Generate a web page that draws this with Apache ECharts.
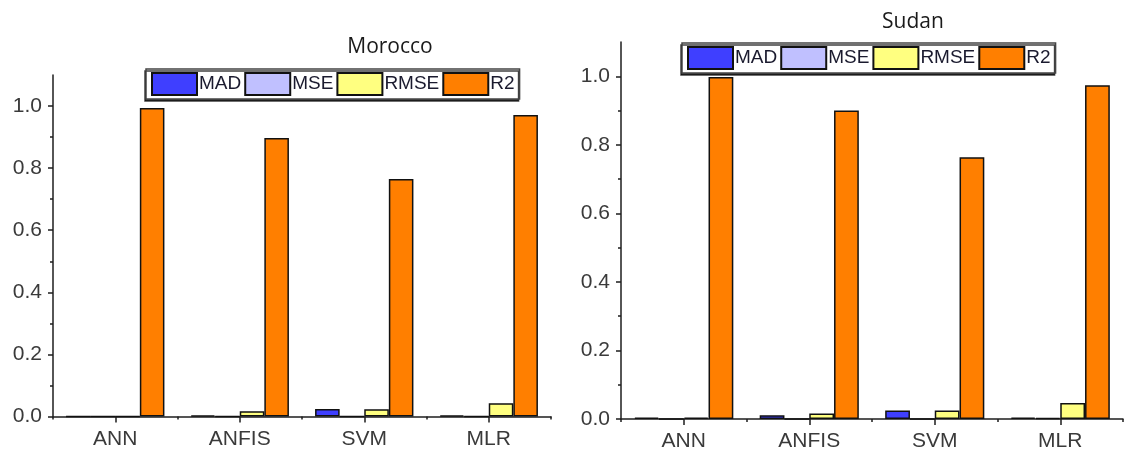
<!DOCTYPE html>
<html>
<head>
<meta charset="utf-8">
<script src="https://cdn.jsdelivr.net/npm/echarts@6/dist/echarts.min.js"></script>
<style>
  html, body { margin: 0; padding: 0; background: #fff; }
  #chart { width: 1125px; height: 454px; }
</style>
</head>
<body>
<div id="chart"></div>
<script>
// Model categories and error metrics
const categories = ['ANN', 'ANFIS', 'SVM', 'MLR'];
const metrics = ['MAD', 'MSE', 'RMSE', 'R2'];

// Morocco
const moroccoMAD = [0, 0.004, 0.024, 0.004];
const moroccoMSE = [0, 0, 0, 0];
const moroccoRMSE = [0, 0.017, 0.023, 0.043];
const moroccoR2 = [0.994, 0.897, 0.765, 0.971];

// Sudan
const sudanMAD = [0.004, 0.011, 0.025, 0.004];
const sudanMSE = [0, 0, 0, 0.003];
const sudanRMSE = [0.004, 0.016, 0.025, 0.047];
const sudanR2 = [0.998, 0.900, 0.764, 0.974];

// Y axis tick values
const majorTicks = [0, 0.2, 0.4, 0.6, 0.8, 1.0];
const minorTicks = [0.1, 0.3, 0.5, 0.7, 0.9];

const colors = { MAD: '#3f3fff', MSE: '#c0c0ff', RMSE: '#ffff80', R2: '#ff7f00' };
const FONT = "'Liberation Sans', Arial, sans-serif";
const AXIS = '#1e1e1e';

function valueAxes(grid) {
  return [
    {
      type: 'value', gridIndex: grid, min: 0, max: 1.1, position: 'left',
      splitLine: { show: false },
      axisLine: { show: true, lineStyle: { color: AXIS, width: 1.5 } },
      axisTick: { show: true, length: 5, inside: false, customValues: majorTicks,
                  lineStyle: { color: AXIS, width: 1.5 } },
      axisLabel: { customValues: majorTicks, margin: 11, color: '#3a3a3a',
                   fontFamily: FONT, fontSize: 21,
                   formatter: v => v.toFixed(1) }
    },
    {
      type: 'value', gridIndex: grid, min: 0, max: 1.1, position: 'left',
      splitLine: { show: false },
      axisLine: { show: false },
      axisTick: { show: true, length: 3, customValues: minorTicks,
                  lineStyle: { color: AXIS, width: 1.5 } },
      axisLabel: { show: false }
    }
  ];
}

function categoryAxes(grid) {
  return [
    {
      type: 'category', gridIndex: grid, data: categories,
      axisLine: { show: true, lineStyle: { color: AXIS, width: 1.5 } },
      axisTick: { show: true, alignWithLabel: true, length: 6,
                  lineStyle: { color: AXIS, width: 1.5 } },
      axisLabel: { margin: 12, color: '#3a3a3a', fontFamily: FONT, fontSize: 21 }
    },
    {
      type: 'category', gridIndex: grid, data: categories, position: 'bottom',
      axisLine: { show: false },
      axisTick: { show: true, length: 3, lineStyle: { color: AXIS, width: 1.5 } },
      axisLabel: { show: false }
    }
  ];
}

function barSeries(name, data, grid) {
  return {
    type: 'bar', name: name, data: data,
    xAxisIndex: grid * 2, yAxisIndex: grid * 2,
    barGap: '0%', barCategoryGap: '21%',
    itemStyle: { color: colors[name], borderColor: '#111', borderWidth: 1.5 },
    emphasis: { disabled: true }
  };
}

function legendAt(left, top) {
  return {
    data: metrics, left: left, top: top, orient: 'horizontal',
    icon: 'rect', itemWidth: 45, itemHeight: 22, itemGap: 3,
    padding: [3, 5], backgroundColor: '#fff',
    borderColor: '#444', borderWidth: 1.5,
    shadowColor: 'rgba(0,0,0,0.75)', shadowBlur: 0, shadowOffsetX: -1, shadowOffsetY: 2,
    textStyle: { fontFamily: FONT, fontSize: 19, color: '#1a1a2e', padding: [0, 0, 0, -3] },
    selectedMode: false
  };
}

const chart = echarts.init(document.getElementById('chart'), null, { renderer: 'canvas' });
chart.setOption({
  animation: false,
  backgroundColor: '#fff',
  title: [
    { text: 'Morocco', left: 385, top: 32, textAlign: 'center',
      textStyle: { fontFamily: "'Open Sans', sans-serif", fontSize: 21, fontWeight: 'normal', color: '#1a1a1a' } },
    { text: 'Sudan', left: 908, top: 7, textAlign: 'center',
      textStyle: { fontFamily: "'Open Sans', sans-serif", fontSize: 21, fontWeight: 'normal', color: '#1a1a1a' } }
  ],
  legend: [legendAt(146, 69), legendAt(682, 43)],
  grid: [
    { left: 53, top: 75, width: 498, height: 341.5 },
    { left: 621, top: 42, width: 502, height: 377 }
  ],
  xAxis: [...categoryAxes(0), ...categoryAxes(1)],
  yAxis: [...valueAxes(0), ...valueAxes(1)],
  series: [
    barSeries('MAD', moroccoMAD, 0),
    barSeries('MSE', moroccoMSE, 0),
    barSeries('RMSE', moroccoRMSE, 0),
    barSeries('R2', moroccoR2, 0),
    barSeries('MAD', sudanMAD, 1),
    barSeries('MSE', sudanMSE, 1),
    barSeries('RMSE', sudanRMSE, 1),
    barSeries('R2', sudanR2, 1)
  ]
});
</script>
</body>
</html>
